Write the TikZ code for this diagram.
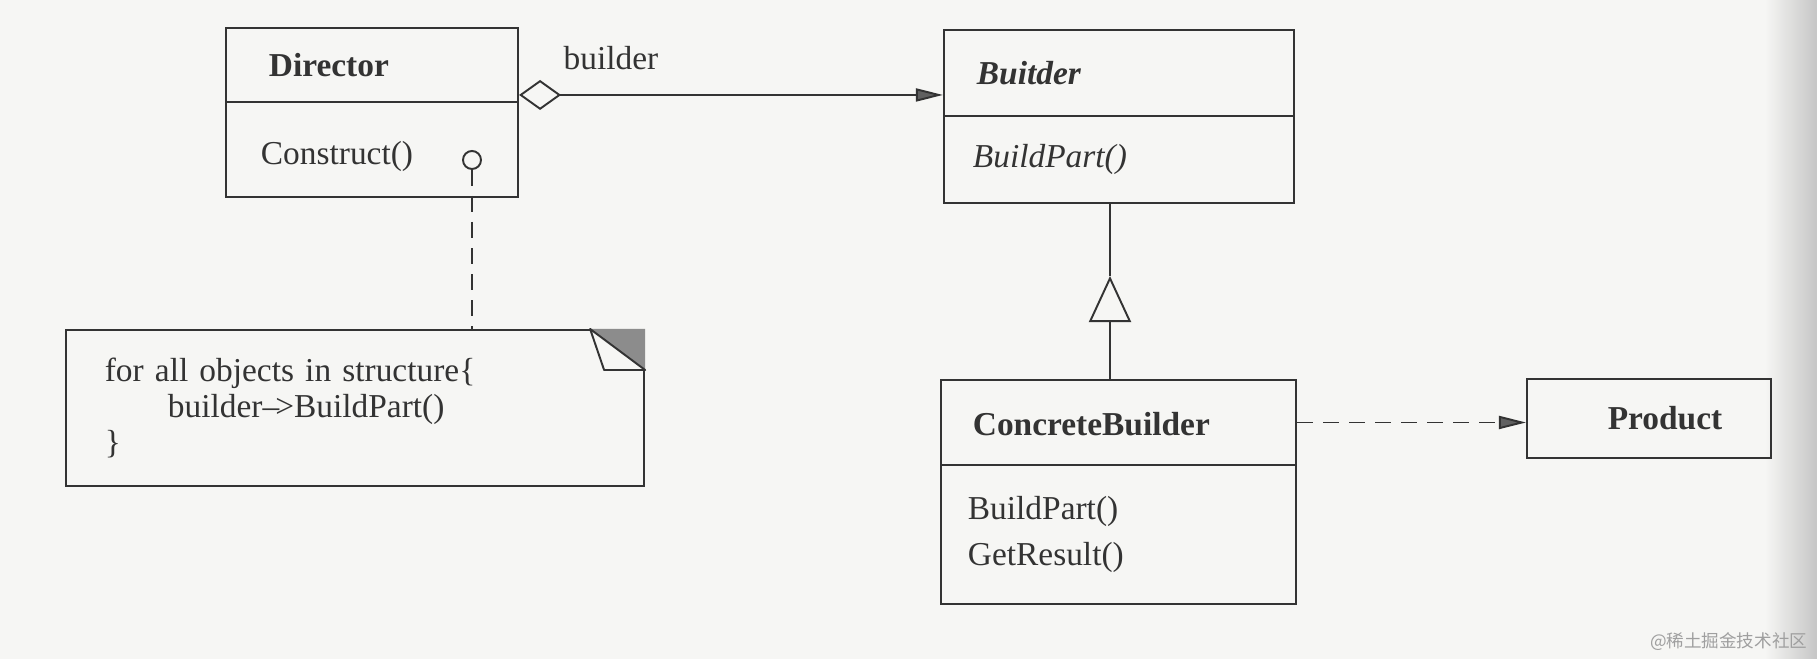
\documentclass[tikz,border=0pt]{standalone}
\usepackage{fontspec}
\setmainfont{Liberation Serif}
\newfontfamily\cjkfont{Noto Sans CJK SC}
\usetikzlibrary{arrows.meta,positioning}
\definecolor{inkgray}{HTML}{333333}
\definecolor{papergray}{HTML}{F6F6F4}
\definecolor{foldgray}{HTML}{8C8C8C}
\begin{document}
\begin{tikzpicture}[x=0.01cm, y=-0.01cm, color=inkgray, line width=0.55pt,
  >={Triangle[length=0.27cm, width=0.13cm, fill=gray!75!black]},
  every node/.style={font=\fontsize{9.5}{11}\selectfont},
  classpart/.style={draw, align=left, inner ysep=0pt},
  depend/.style={dash pattern=on 0.16cm off 0.1cm}]
\useasboundingbox[fill=papergray] (0,0) rectangle (1817,659);
\shade[left color=papergray, right color=gray!45] (1765,0) rectangle (1817,659);
\node[classpart, minimum height=0.74cm, text width=2.06cm, inner xsep=0.43cm] (dirhead) at (372,65) {\textbf{Director}};
\node[classpart, minimum height=0.95cm, text width=2.22cm, inner xsep=0.35cm, text height=0.31cm, text depth=0pt] (dirbody) at (372,149.5) {Construct()};
\node[classpart, minimum height=0.86cm, text width=2.84cm, inner xsep=0.33cm] (bldhead) at (1119,73) {\textbf{\textit{Buitder}}};
\node[classpart, minimum height=0.87cm, text width=2.92cm, inner xsep=0.29cm] (bldbody) at (1119,159.5) {\textit{BuildPart()}};
\node[classpart, minimum height=0.85cm, text width=2.91cm, inner xsep=0.32cm, text height=0.27cm, text depth=0pt] (cbhead) at (1118.5,422.5) {\textbf{ConcreteBuilder}};
\node[classpart, minimum height=1.39cm, text width=3.01cm, inner xsep=0.27cm, font=\fontsize{9.5}{13.3}\selectfont] (cbbody) at (1118.5,534.5) {BuildPart()\\GetResult()};
\node[classpart, align=center, minimum height=0.79cm, text width=2.44cm, inner xsep=0pt] (product) at (1649,418.5) {\hspace*{0.32cm}\textbf{Product}};
\node[classpart, minimum height=1.56cm, text width=5.0cm, inner xsep=0.39cm, font=\fontsize{9.5}{10.3}\selectfont] (note) at (355,408) {for all objects in structure\{\\\hspace*{0.63cm}builder\textendash\kern-0.12em>BuildPart()\\\}};
% dog-ear of the note
\fill[foldgray] ([xshift=-0.55cm]note.north east) -- (note.north east) -- ([yshift=-0.41cm]note.north east) -- cycle;
\filldraw[fill=papergray, line join=round] ([xshift=-0.55cm]note.north east) -- ([xshift=-0.41cm, yshift=-0.41cm]note.north east) -- ([yshift=-0.41cm]note.north east) -- cycle;
\node[draw, circle, minimum size=0.18cm, inner sep=0pt] (hook) at (472,160) {};
\draw[depend] (hook) -- (hook |- note.north);
\coordinate (aggstart) at ([yshift=0.08cm]dirhead.south east);
\draw[{Diamond[open, length=0.42cm, width=0.3cm]}->] (aggstart) -- (aggstart -| bldhead.west);
\node (rolelbl) at (611,58) {builder};
\coordinate (inhtip) at (1110,276);
\draw[-{Triangle[open, length=0.46cm, width=0.42cm]}] (inhtip |- cbhead.north) -- (inhtip);
\draw (inhtip) -- (inhtip |- bldbody.south);
\draw[depend, ->] (cbhead.east) -- (cbhead.east -| product.west);
\node[font=\cjkfont\fontsize{5}{6}\selectfont, text=gray!75, anchor=east] (wmark) at (1820,642) {@稀土掘金技术社区};
\end{tikzpicture}
\end{document}
